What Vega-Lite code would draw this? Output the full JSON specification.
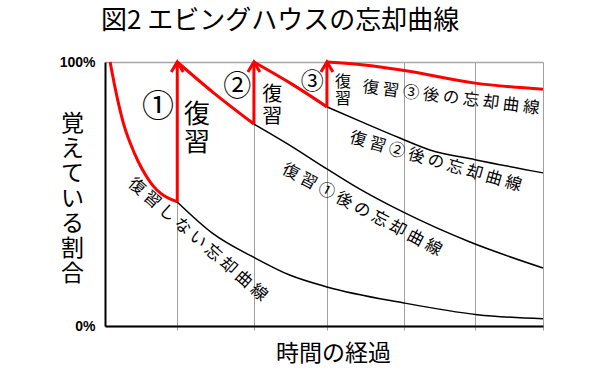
{
  "$schema": "https://vega.github.io/schema/vega-lite/v6.json",
  "width": 438,
  "height": 264,
  "autosize": "none",
  "padding": {"left": 105, "top": 62, "right": 57, "bottom": 54},
  "background": "white",
  "title": {
    "text": "図2 エビングハウスの忘却曲線",
    "font": "Noto Sans CJK JP",
    "fontSize": 26,
    "fontWeight": "normal",
    "color": "black",
    "anchor": "middle",
    "dx": -44,
    "offset": 21
  },
  "config": {"view": {"stroke": null}},
  "datasets": {
    "red": [
      {"seg": "r0", "x": 0.07, "y": 1.0},
      {"seg": "r0", "x": 0.14, "y": 0.9},
      {"seg": "r0", "x": 0.25, "y": 0.77},
      {"seg": "r0", "x": 0.41, "y": 0.65},
      {"seg": "r0", "x": 0.62, "y": 0.545},
      {"seg": "r0", "x": 0.99, "y": 0.47},
      {"seg": "r1", "x": 0.99, "y": 1.0},
      {"seg": "r1", "x": 1.48, "y": 0.885},
      {"seg": "r1", "x": 2.04, "y": 0.765},
      {"seg": "r2", "x": 2.04, "y": 1.0},
      {"seg": "r2", "x": 2.55, "y": 0.918},
      {"seg": "r2", "x": 3.04, "y": 0.83},
      {"seg": "r3", "x": 3.04, "y": 1.0},
      {"seg": "r3", "x": 3.55, "y": 0.989},
      {"seg": "r3", "x": 4.08, "y": 0.969},
      {"seg": "r3", "x": 5.07, "y": 0.92},
      {"seg": "r3", "x": 6.0, "y": 0.897}
    ],
    "black": [
      {"seg": "b0", "x": 0.99, "y": 0.47},
      {"seg": "b0", "x": 1.48, "y": 0.35},
      {"seg": "b0", "x": 2.04, "y": 0.26},
      {"seg": "b0", "x": 2.53, "y": 0.193},
      {"seg": "b0", "x": 3.04, "y": 0.148},
      {"seg": "b0", "x": 4.08, "y": 0.088},
      {"seg": "b0", "x": 5.1, "y": 0.043},
      {"seg": "b0", "x": 6.0, "y": 0.027},
      {"seg": "b1", "x": 2.04, "y": 0.765},
      {"seg": "b1", "x": 2.5, "y": 0.69},
      {"seg": "b1", "x": 3.04, "y": 0.595},
      {"seg": "b1", "x": 3.45, "y": 0.525},
      {"seg": "b1", "x": 4.08, "y": 0.432},
      {"seg": "b1", "x": 5.0, "y": 0.318},
      {"seg": "b1", "x": 6.0, "y": 0.22},
      {"seg": "b2", "x": 3.04, "y": 0.83},
      {"seg": "b2", "x": 3.5, "y": 0.775},
      {"seg": "b2", "x": 4.04, "y": 0.712},
      {"seg": "b2", "x": 4.45, "y": 0.667},
      {"seg": "b2", "x": 5.07, "y": 0.63},
      {"seg": "b2", "x": 6.0, "y": 0.58}
    ],
    "arrows": [
      {"x": 0.99, "low": 0.47},
      {"x": 2.04, "low": 0.765},
      {"x": 3.04, "low": 0.83}
    ]
  },
  "encoding": {
    "x": {
      "type": "quantitative",
      "scale": {"domain": [0, 6], "nice": false, "zero": false},
      "axis": {
        "values": [0.99, 2.04, 3.04, 4.1, 5.07, 6],
        "grid": true,
        "gridColor": "#a0a0a0",
        "gridWidth": 1,
        "labels": false,
        "ticks": true,
        "tickSize": 4,
        "tickColor": "#a0a0a0",
        "domainColor": "black",
        "domainWidth": 2,
        "title": "時間の経過",
        "titleFont": "Noto Sans CJK JP",
        "titleFontSize": 23,
        "titleFontWeight": "normal",
        "titleColor": "black",
        "titleX": 228,
        "titleY": 27,
        "titleAlign": "center",
        "titleBaseline": "middle"
      }
    },
    "y": {
      "type": "quantitative",
      "scale": {"domain": [0, 1], "nice": false},
      "axis": {
        "values": [0, 1],
        "format": ".0%",
        "grid": true,
        "gridColor": "#a6a6a6",
        "gridWidth": 1.5,
        "ticks": false,
        "labelPadding": 10,
        "labelFont": "Liberation Sans",
        "labelFontSize": 14,
        "labelFontWeight": "bold",
        "labelColor": "black",
        "domainColor": "black",
        "domainWidth": 2,
        "title": ["覚", "え", "て", "い", "る", "割", "合"],
        "titleAngle": 0,
        "titleFont": "Noto Sans CJK JP",
        "titleFontSize": 23,
        "titleFontWeight": "normal",
        "titleColor": "black",
        "titleLineHeight": 25,
        "titleX": -33,
        "titleY": 50,
        "titleAlign": "center",
        "titleBaseline": "top"
      }
    }
  },
  "layer": [
    {
      "data": {"name": "black"},
      "mark": {"type": "line", "color": "black", "strokeWidth": 1.5, "interpolate": "monotone"},
      "encoding": {"x": {"field": "x"}, "y": {"field": "y"}, "detail": {"field": "seg"}}
    },
    {
      "data": {"name": "red"},
      "mark": {"type": "line", "color": "#ff0000", "strokeWidth": 3, "interpolate": "monotone"},
      "encoding": {"x": {"field": "x"}, "y": {"field": "y"}, "detail": {"field": "seg"}}
    },
    {
      "data": {"name": "arrows"},
      "mark": {"type": "rule", "color": "#ff0000", "strokeWidth": 3},
      "encoding": {"x": {"field": "x"}, "y": {"field": "low"}, "y2": {"datum": 1}}
    },
    {
      "data": {"name": "arrows"},
      "mark": {"type": "point", "shape": "M-0.6,1L0,0L0.6,1", "size": 400, "filled": false, "stroke": "#ff0000", "strokeWidth": 3, "opacity": 1, "strokeJoin": "miter"},
      "encoding": {"x": {"field": "x"}, "y": {"datum": 1}}
    },
    {
      "data": {"values": [{"x": 0.726, "y": 0.83, "t": "①"}]},
      "mark": {"type": "text", "font": "Noto Sans CJK JP", "fontSize": 32, "color": "black", "align": "center", "baseline": "middle"},
      "encoding": {"x": {"field": "x"}, "y": {"field": "y"}, "text": {"field": "t"}}
    },
    {
      "data": {"values": [{"x": 1.26, "y": 0.8, "t": "復\n習"}]},
      "mark": {"type": "text", "font": "Noto Sans CJK JP", "fontSize": 26, "lineBreak": "\n", "lineHeight": 28, "color": "black", "align": "center", "baseline": "middle"},
      "encoding": {"x": {"field": "x"}, "y": {"field": "y"}, "text": {"field": "t"}}
    },
    {
      "data": {"values": [{"x": 1.81, "y": 0.9, "t": "②"}]},
      "mark": {"type": "text", "font": "Noto Sans CJK JP", "fontSize": 28, "color": "black", "align": "center", "baseline": "middle"},
      "encoding": {"x": {"field": "x"}, "y": {"field": "y"}, "text": {"field": "t"}}
    },
    {
      "data": {"values": [{"x": 2.29, "y": 0.876, "t": "復\n習"}]},
      "mark": {"type": "text", "font": "Noto Sans CJK JP", "fontSize": 20, "lineBreak": "\n", "lineHeight": 22, "color": "black", "align": "center", "baseline": "middle"},
      "encoding": {"x": {"field": "x"}, "y": {"field": "y"}, "text": {"field": "t"}}
    },
    {
      "data": {"values": [{"x": 2.84, "y": 0.924, "t": "③"}]},
      "mark": {"type": "text", "font": "Noto Sans CJK JP", "fontSize": 23, "color": "black", "align": "center", "baseline": "middle"},
      "encoding": {"x": {"field": "x"}, "y": {"field": "y"}, "text": {"field": "t"}}
    },
    {
      "data": {"values": [{"x": 3.26, "y": 0.924, "t": "復\n習"}]},
      "mark": {"type": "text", "font": "Noto Sans CJK JP", "fontSize": 16, "lineBreak": "\n", "lineHeight": 17, "color": "black", "align": "center", "baseline": "middle"},
      "encoding": {"x": {"field": "x"}, "y": {"field": "y"}, "text": {"field": "t"}}
    },
    {
      "data": {"values": [{"x": 4.74, "y": 0.864, "t": "復 習 ③ 後 の 忘 却 曲 線"}]},
      "mark": {"type": "text", "font": "Noto Sans CJK JP", "fontSize": 16.5, "angle": 7, "color": "black", "align": "center", "baseline": "middle"},
      "encoding": {"x": {"field": "x"}, "y": {"field": "y"}, "text": {"field": "t"}}
    },
    {
      "data": {"values": [{"x": 4.53, "y": 0.622, "t": "復 習 ② 後 の 忘 却 曲 線"}]},
      "mark": {"type": "text", "font": "Noto Sans CJK JP", "fontSize": 16.5, "angle": 16, "color": "black", "align": "center", "baseline": "middle"},
      "encoding": {"x": {"field": "x"}, "y": {"field": "y"}, "text": {"field": "t"}}
    },
    {
      "data": {"values": [{"x": 3.52, "y": 0.44, "t": "復 習 ① 後 の 忘 却 曲 線"}]},
      "mark": {"type": "text", "font": "Noto Sans CJK JP", "fontSize": 16.5, "angle": 28, "color": "black", "align": "center", "baseline": "middle"},
      "encoding": {"x": {"field": "x"}, "y": {"field": "y"}, "text": {"field": "t"}}
    },
    {
      "data": {"values": [{"x": 1.27, "y": 0.327, "t": "復 習 し な い 忘 却 曲 線"}]},
      "mark": {"type": "text", "font": "Noto Sans CJK JP", "fontSize": 16.5, "angle": 41, "color": "black", "align": "center", "baseline": "middle"},
      "encoding": {"x": {"field": "x"}, "y": {"field": "y"}, "text": {"field": "t"}}
    }
  ]
}
